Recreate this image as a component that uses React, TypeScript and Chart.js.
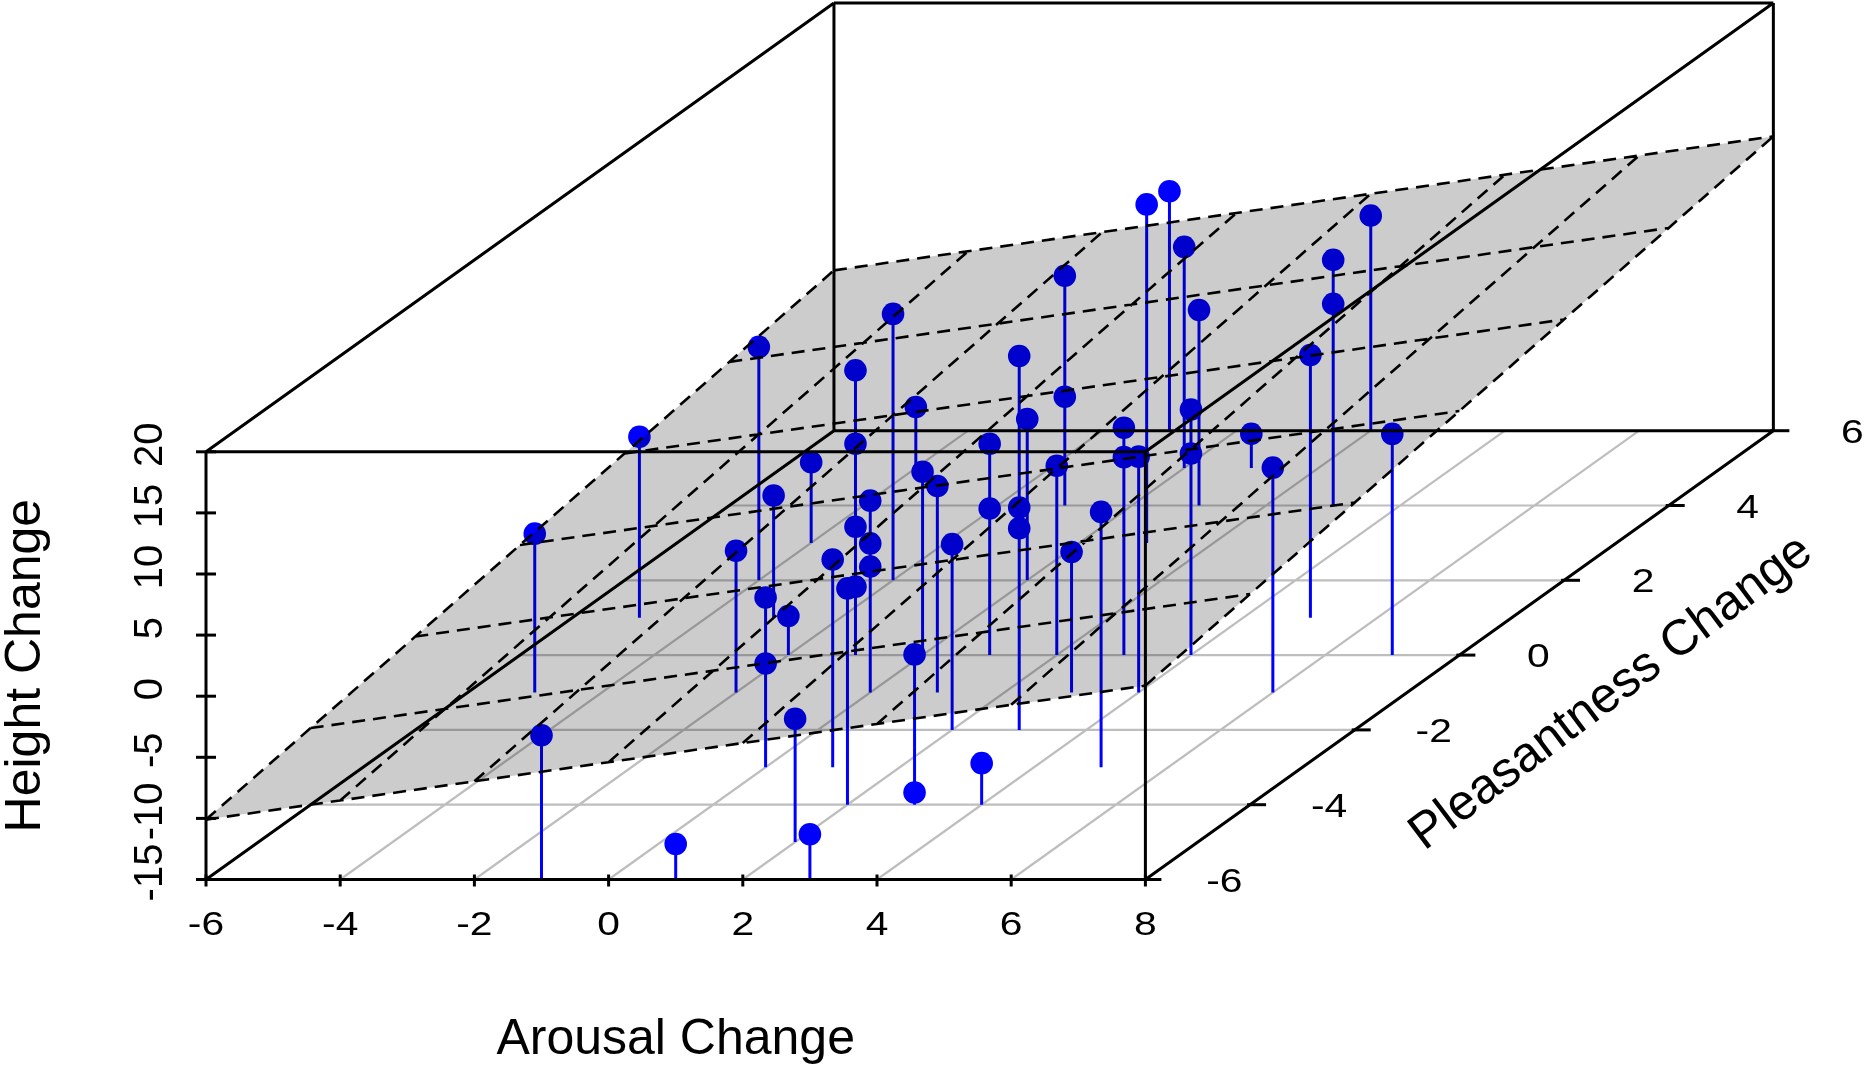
import { Chart, registerables } from "chart.js"
import { useEffect, useRef } from "react"

Chart.register(...registerables)

// one entry per subject: arousal change, pleasantness change, height change
const arousal = [-5, -5, -4, -1, -1, -1, -1, -4, -3, -2, 0, 0, -2, 1, 2, 0, 0, 0, -1, 1, 3, 2, -2, -4, 0, 1, 1, 1, 3, 3, 3, 0, -1, -1, 2, 5, 3, 2, 3, 3, 4, 1, -1, 0, 1, 4, 4, 3, 3, 4, 1, 2, 3, 3, 5, 6, 7]
const pleasantness = [-1, 1, 2, 0, 0, 0, 0, 3, 1, -1, -3, -3, 0, -3, -4, -1, -1, -1, -6, -6, -6, -5, 2, 5, 0, -1, 0, 0, -2, -2, -2, 2, 4, 4, 0, -3, -1, -2, -4, -4, -4, 3, 6, 5, 4, 0, 0, 0, 0, -1, 5, 6, 4, 4, 1, -1, 0]
const heightChange = [-2.0, -0.2, 4.1, 8.3, 2.3, -4.5, -9.4, -8.4, -5.0, -3.4, -1.1, -6.5, -11.8, 2.0, 2.7, 0.7, -2.8, -4.7, -3.2, -12.1, -11.3, -4.9, 6.8, -10.0, 0.0, 1.9, 2.3, -3.0, 15.6, 3.2, 1.5, -1.8, 3.8, -6.1, 0.5, 5.9, -3.5, 0.2, -2.7, -14.0, -11.6, 12.7, 4.6, 3.1, 1.0, 5.1, 1.5, 3.6, 1.2, 4.3, -12.2, 2.6, 5.1, 1.5, 6.5, 3.4, 3.1]

const arousalTicks = [-6, -4, -2, 0, 2, 4, 6, 8]
const pleasantnessTicks = [-6, -4, -2, 0, 2, 4, 6]
const heightTicks = [-15, -10, -5, 0, 5, 10, 15, 20]

// fitted regression plane: height = a + b*arousal + c*pleasantness
const planeIntercept = -1.29
const planeArousal = 0.783
const planePleasantness = 0.685

const W = 1868
const H = 1067

// 3d -> 2d: pleasantness runs back and to the right
const PX_PER_AROUSAL = 67.1
const PX_PER_HEIGHT = 12.22
const KX = 52.33 / PX_PER_AROUSAL
const KY = 37.4 / PX_PER_HEIGHT
const ORIGIN_X = 206
const ORIGIN_Y = 879.5

const A0 = arousalTicks[0], A1 = arousalTicks[arousalTicks.length - 1]
const P0 = pleasantnessTicks[0], P1 = pleasantnessTicks[pleasantnessTicks.length - 1]
const H0 = heightTicks[0], H1 = heightTicks[heightTicks.length - 1]

const X_MIN = A0 - ORIGIN_X / PX_PER_AROUSAL
const X_MAX = X_MIN + W / PX_PER_AROUSAL
const Y_MAX = H0 + ORIGIN_Y / PX_PER_HEIGHT
const Y_MIN = Y_MAX - H / PX_PER_HEIGHT

type P = { x: number; y: number }
const proj = (a: number, p: number, h: number): P => ({ x: a + KX * (p - P0), y: h + KY * (p - P0) })
const GAP: P = { x: NaN, y: NaN }
const segs = (list: [P, P][]) => list.flatMap(([u, v]) => [u, v, GAP])
const zPlane = (a: number, p: number) => planeIntercept + planeArousal * a + planePleasantness * p

const FONT = '"Liberation Sans", Arial, sans-serif'

const axesPlugin = {
  id: "axes3d",
  afterDatasetsDraw(chart: Chart) {
    const ctx = chart.ctx
    const xs = chart.scales.x
    const ys = chart.scales.y
    const pix = (a: number, p: number, h: number) => {
      const q = proj(a, p, h)
      return [xs.getPixelForValue(q.x), ys.getPixelForValue(q.y)]
    }
    ctx.save()
    ctx.strokeStyle = "#000"
    ctx.fillStyle = "#000"
    ctx.lineWidth = 3
    ctx.textAlign = "center"
    ctx.textBaseline = "alphabetic"

    // wide tick label, as in the original device
    const wideText = (s: string, x: number, y: number) => {
      ctx.save()
      ctx.translate(x, y)
      ctx.scale(1.2, 1)
      ctx.fillText(s, 0, 0)
      ctx.restore()
    }

    // arousal axis (front bottom)
    ctx.font = `34px ${FONT}`
    arousalTicks.forEach((a) => {
      const [x, y] = pix(a, P0, H0)
      ctx.beginPath()
      ctx.moveTo(x, y - 5)
      ctx.lineTo(x, y + 7)
      ctx.stroke()
      wideText(String(a), x, y + 55)
    })

    // pleasantness axis (right floor edge)
    pleasantnessTicks.forEach((p) => {
      const [x, y] = pix(A1, p, H0)
      ctx.beginPath()
      ctx.moveTo(x - 3, y)
      ctx.lineTo(x + 16, y)
      ctx.stroke()
      wideText(String(p), x + 79, y + 12)
    })

    // height axis (front left)
    ctx.font = `40px ${FONT}`
    heightTicks.forEach((h) => {
      const [x, y] = pix(A0, P0, h)
      ctx.beginPath()
      ctx.moveTo(x - 10, y)
      ctx.lineTo(x + 10, y)
      ctx.stroke()
      ctx.save()
      ctx.translate(x - 44, y - 7)
      ctx.rotate(-Math.PI / 2)
      ctx.fillText(String(h), 0, 0)
      ctx.restore()
    })

    // axis titles
    ctx.font = `50px ${FONT}`
    const [bx, by] = pix((A0 + A1) / 2, P0, H0)
    ctx.fillText("Arousal Change", bx, by + 174)

    const [lx, ly] = pix(A0, P0, (H0 + H1) / 2)
    ctx.save()
    ctx.translate(lx - 166, ly)
    ctx.rotate(-Math.PI / 2)
    ctx.fillText("Height Change", 0, 0)
    ctx.restore()

    const [rx, ry] = pix(A1, (P0 + P1) / 2, H0)
    ctx.save()
    ctx.translate(rx + 152, ry + 38)
    ctx.rotate((-37 * Math.PI) / 180)
    ctx.textBaseline = "middle"
    ctx.fillText("Pleasantness Change", 0, 0)
    ctx.restore()

    ctx.restore()
  },
}

const App = () => {
  const canvasRef = useRef<HTMLCanvasElement>(null)

  useEffect(() => {
    if (!canvasRef.current) return

    // floor grid
    const floorGrid = segs([
      ...pleasantnessTicks.slice(1, -1).map((p) => [proj(A0, p, H0), proj(A1, p, H0)] as [P, P]),
      ...arousalTicks.slice(1, -1).map((a) => [proj(a, P0, H0), proj(a, P1, H0)] as [P, P]),
    ])

    // box edges
    const c = (a: number, p: number, h: number) => proj(a, p, h)
    const box = segs([
      [c(A0, P0, H0), c(A1, P0, H0)],
      [c(A1, P0, H0), c(A1, P0, H1)],
      [c(A1, P0, H1), c(A0, P0, H1)],
      [c(A0, P0, H1), c(A0, P0, H0)],
      [c(A0, P1, H0), c(A1, P1, H0)],
      [c(A1, P1, H0), c(A1, P1, H1)],
      [c(A1, P1, H1), c(A0, P1, H1)],
      [c(A0, P1, H1), c(A0, P1, H0)],
      [c(A0, P0, H0), c(A0, P1, H0)],
      [c(A1, P0, H0), c(A1, P1, H0)],
      [c(A0, P0, H1), c(A0, P1, H1)],
      [c(A1, P0, H1), c(A1, P1, H1)],
    ])

    // back-to-front drawing order
    const idx = arousal.map((_, i) => i).sort((i, j) => pleasantness[j] - pleasantness[i])
    const stems = segs(idx.map((i) => [proj(arousal[i], pleasantness[i], H0), proj(arousal[i], pleasantness[i], heightChange[i])] as [P, P]))
    const points = idx.map((i) => proj(arousal[i], pleasantness[i], heightChange[i]))

    const plane = [
      proj(A0, P0, zPlane(A0, P0)),
      proj(A1, P0, zPlane(A1, P0)),
      proj(A1, P1, zPlane(A1, P1)),
      proj(A0, P1, zPlane(A0, P1)),
      proj(A0, P0, zPlane(A0, P0)),
    ]
    const planeLines = segs([
      ...arousalTicks.map((a) => [proj(a, P0, zPlane(a, P0)), proj(a, P1, zPlane(a, P1))] as [P, P]),
      ...pleasantnessTicks.map((p) => [proj(A0, p, zPlane(A0, p)), proj(A1, p, zPlane(A1, p))] as [P, P]),
    ])

    const line = (data: P[], color: string, width: number, order: number, extra = {}) => ({
      data,
      borderColor: color,
      borderWidth: width,
      pointRadius: 0,
      fill: false,
      tension: 0,
      spanGaps: false,
      clip: false as const,
      order,
      ...extra,
    })

    const chart = new Chart(canvasRef.current, {
      type: "line",
      data: {
        datasets: [
          line(floorGrid, "#BEBEBE", 2.2, 7),
          line(stems, "#0000FF", 3, 6),
          {
            data: points,
            showLine: false,
            pointRadius: 11.3,
            pointBackgroundColor: "#0000FF",
            pointBorderWidth: 0,
            pointBorderColor: "#0000FF",
            clip: false,
            order: 5,
          },
          line(plane, "rgba(0,0,0,0)", 1, 4, { fill: "shape", backgroundColor: "rgba(0,0,0,0.2)" }),
          line(planeLines, "#000", 2.6, 3, { borderDash: [13, 8] }),
          line(box, "#000", 3, 2),
        ] as any,
      },
      options: {
        responsive: false,
        animation: false,
        events: [],
        layout: { padding: 0, autoPadding: false },
        plugins: { legend: { display: false }, tooltip: { enabled: false } },
        scales: {
          x: { type: "linear", min: X_MIN, max: X_MAX, display: false },
          y: { type: "linear", min: Y_MIN, max: Y_MAX, display: false },
        },
      },
      plugins: [axesPlugin],
    })

    return () => {
      chart.destroy()
    }
  }, [])

  return (
    <div style={{ position: "fixed", left: 0, top: 0, width: W, height: H, background: "#fff" }}>
      <canvas ref={canvasRef} width={W} height={H} style={{ display: "block" }}></canvas>
    </div>
  )
}

export default App
